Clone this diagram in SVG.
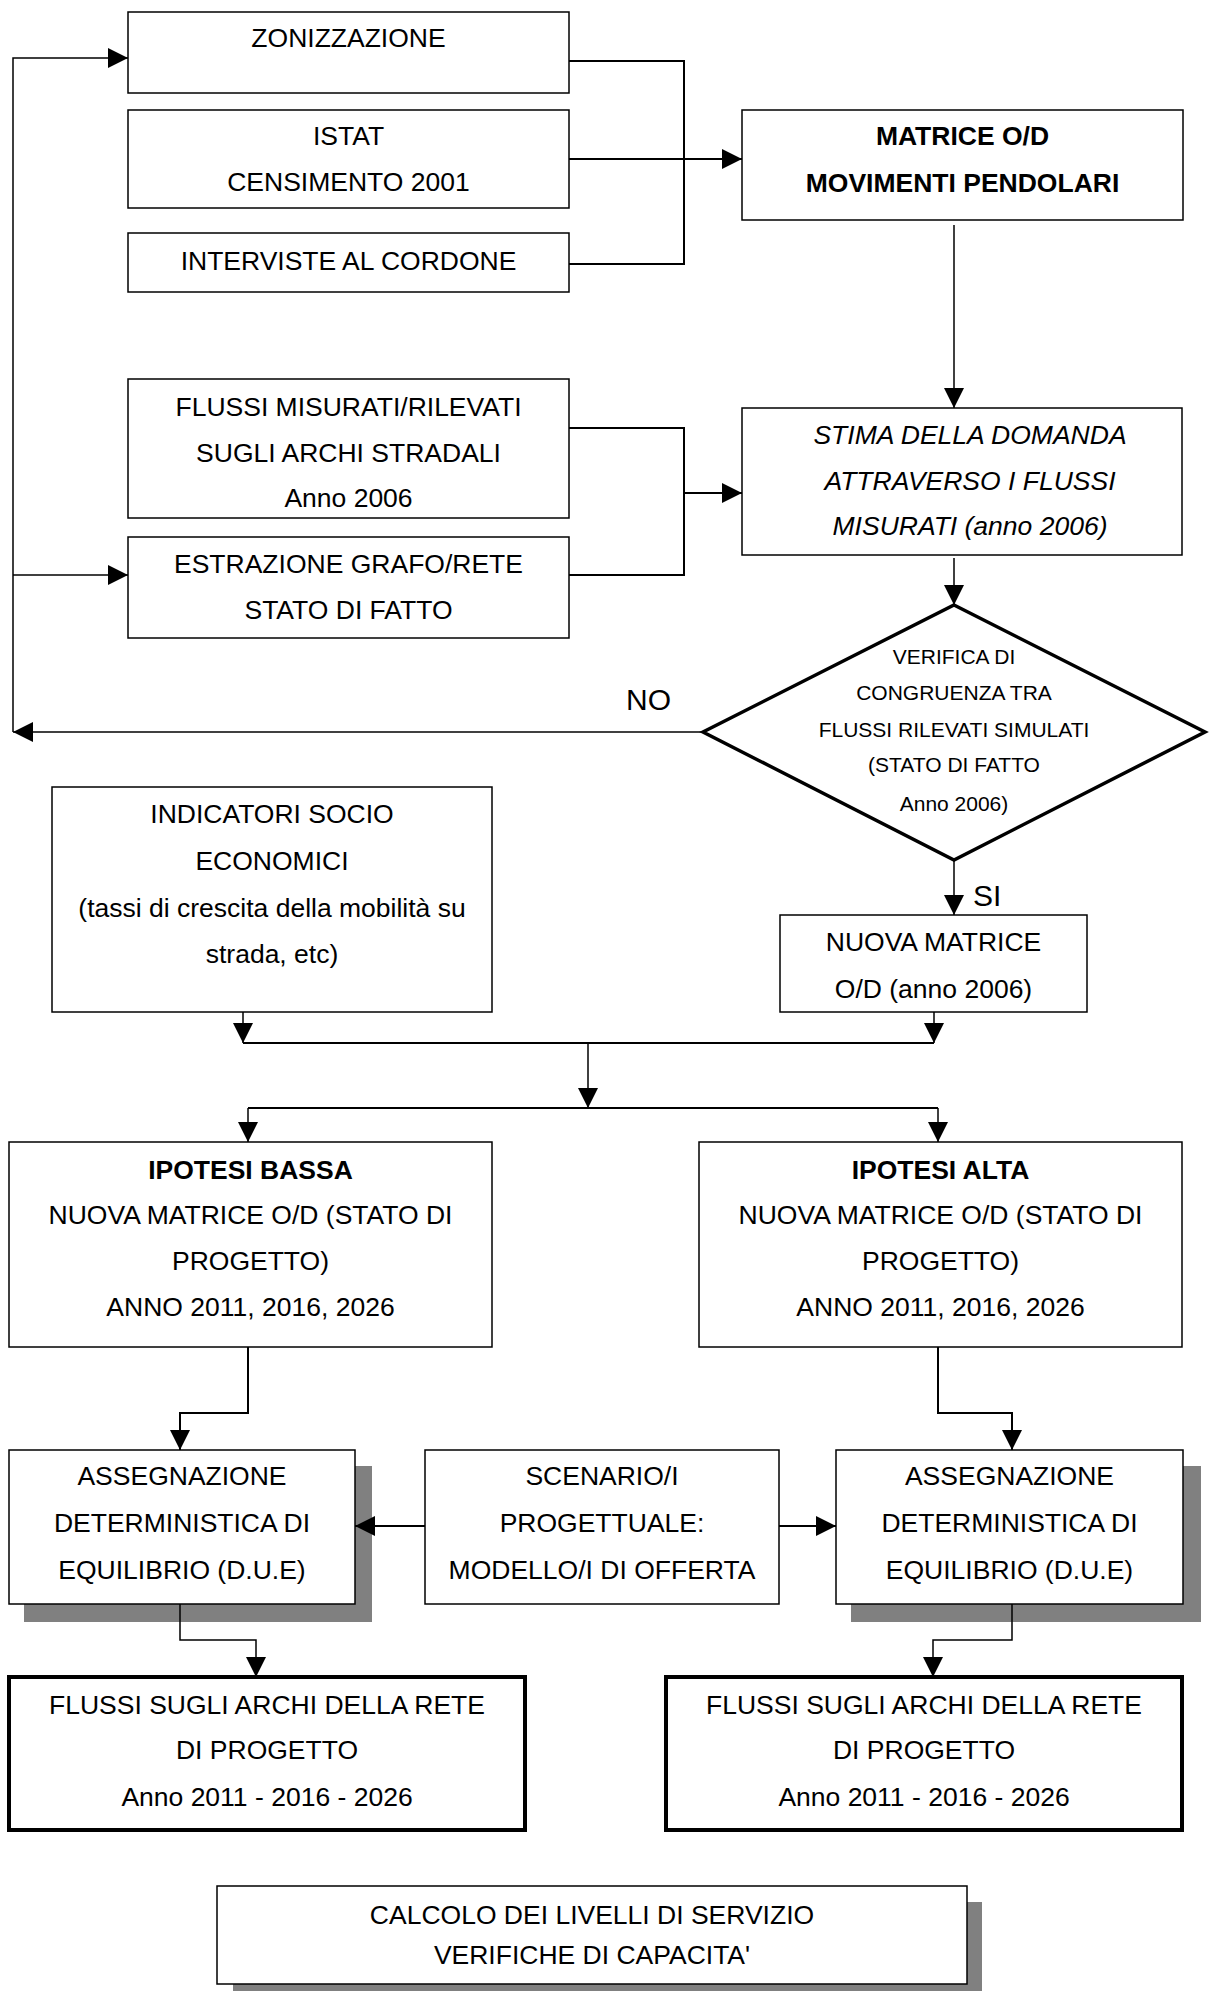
<svg xmlns="http://www.w3.org/2000/svg" width="1210" height="1991" viewBox="0 0 1210 1991">
<style>
  .box { fill: #ffffff; stroke: #000000; stroke-width: 1.5; }
  .thick { fill: #ffffff; stroke: #000000; stroke-width: 4; }
  .dia { fill: #ffffff; stroke: #000000; stroke-width: 3.5; stroke-linejoin: miter; }
  .shadow { fill: #808080; stroke: none; }
  .t { font-family: "Liberation Sans", Arial, sans-serif; font-size: 26.5px; fill: #000000; text-anchor: middle; }
  .b { font-weight: bold; }
  .i { font-style: italic; }
  .s { font-size: 21px; }
  .lbl { font-family: "Liberation Sans", Arial, sans-serif; font-size: 30px; fill: #000000; }
  .c { fill: none; stroke: #000000; stroke-width: 1.5; }
  .c2 { fill: none; stroke: #000000; stroke-width: 2; }
</style>
<defs>
  <marker id="ah" markerUnits="userSpaceOnUse" markerWidth="20" markerHeight="20" refX="20" refY="10" orient="auto" viewBox="0 0 20 20">
    <path d="M0,0 L20,10 L0,20 Z" fill="#000000"/>
  </marker>
</defs>
<rect width="1210" height="1991" fill="#ffffff"/>

<g id="zonizzazione">
  <rect class="box" x="128" y="12" width="441" height="81"/>
  <text class="t" x="348.5" y="47">ZONIZZAZIONE</text>
</g>
<g id="istat">
  <rect class="box" x="128" y="110" width="441" height="98"/>
  <text class="t" x="348.5" y="145">ISTAT</text>
  <text class="t" x="348.5" y="191">CENSIMENTO 2001</text>
</g>
<g id="interviste">
  <rect class="box" x="128" y="233" width="441" height="59"/>
  <text class="t" x="348.5" y="270">INTERVISTE AL CORDONE</text>
</g>
<g id="matrice">
  <rect class="box" x="742" y="110" width="441" height="110"/>
  <text class="t b" x="962.5" y="145">MATRICE O/D</text>
  <text class="t b" x="962.5" y="192">MOVIMENTI PENDOLARI</text>
</g>
<g id="flussi-misurati">
  <rect class="box" x="128" y="379" width="441" height="139"/>
  <text class="t" x="348.5" y="415.5">FLUSSI MISURATI/RILEVATI</text>
  <text class="t" x="348.5" y="461.5">SUGLI ARCHI STRADALI</text>
  <text class="t" x="348.5" y="507">Anno 2006</text>
</g>
<g id="estrazione">
  <rect class="box" x="128" y="537" width="441" height="101"/>
  <text class="t" x="348.5" y="572.5">ESTRAZIONE GRAFO/RETE</text>
  <text class="t" x="348.5" y="618.5">STATO DI FATTO</text>
</g>
<g id="stima">
  <rect class="box" x="742" y="408" width="440" height="147"/>
  <text class="t i" x="970" y="443.5">STIMA DELLA DOMANDA</text>
  <text class="t i" x="970" y="490">ATTRAVERSO I FLUSSI</text>
  <text class="t i" x="970" y="535">MISURATI (anno 2006)</text>
</g>
<g id="verifica">
  <polygon class="dia" points="954,605 1205,732 954,860 703,732"/>
  <text class="t s" x="954" y="664">VERIFICA DI</text>
  <text class="t s" x="954" y="700">CONGRUENZA TRA</text>
  <text class="t s" x="954" y="737">FLUSSI RILEVATI SIMULATI</text>
  <text class="t s" x="954" y="772">(STATO DI FATTO</text>
  <text class="t s" x="954" y="811">Anno 2006)</text>
</g>
<g id="labels">
  <text class="lbl" x="626" y="710">NO</text>
  <text class="lbl" x="973" y="906">SI</text>
</g>
<g id="indicatori">
  <rect class="box" x="52" y="787" width="440" height="225"/>
  <text class="t" x="272" y="823">INDICATORI SOCIO</text>
  <text class="t" x="272" y="869.5">ECONOMICI</text>
  <text class="t" x="272" y="916.5">(tassi di crescita della mobilità su</text>
  <text class="t" x="272" y="962.5">strada, etc)</text>
</g>
<g id="nuova-matrice">
  <rect class="box" x="780" y="915" width="307" height="97"/>
  <text class="t" x="933.5" y="950.5">NUOVA MATRICE</text>
  <text class="t" x="933.5" y="997.5">O/D (anno 2006)</text>
</g>
<g id="ipotesi-bassa">
  <rect class="box" x="9" y="1142" width="483" height="205"/>
  <text class="t b" x="250.5" y="1178.5">IPOTESI BASSA</text>
  <text class="t" x="250.5" y="1223.5">NUOVA MATRICE O/D (STATO DI</text>
  <text class="t" x="250.5" y="1270">PROGETTO)</text>
  <text class="t" x="250.5" y="1315.5">ANNO 2011, 2016, 2026</text>
</g>
<g id="ipotesi-alta">
  <rect class="box" x="699" y="1142" width="483" height="205"/>
  <text class="t b" x="940.5" y="1178.5">IPOTESI ALTA</text>
  <text class="t" x="940.5" y="1223.5">NUOVA MATRICE O/D (STATO DI</text>
  <text class="t" x="940.5" y="1270">PROGETTO)</text>
  <text class="t" x="940.5" y="1315.5">ANNO 2011, 2016, 2026</text>
</g>
<g id="assegnazione-sx">
  <rect class="shadow" x="24" y="1466" width="348" height="156"/>
  <rect class="box" x="9" y="1450" width="346" height="154"/>
  <text class="t" x="182" y="1485">ASSEGNAZIONE</text>
  <text class="t" x="182" y="1531.5">DETERMINISTICA DI</text>
  <text class="t" x="182" y="1578.5">EQUILIBRIO (D.U.E)</text>
</g>
<g id="scenario">
  <rect class="box" x="425" y="1450" width="354" height="154"/>
  <text class="t" x="602" y="1485">SCENARIO/I</text>
  <text class="t" x="602" y="1531.5">PROGETTUALE:</text>
  <text class="t" x="602" y="1578.5">MODELLO/I DI OFFERTA</text>
</g>
<g id="assegnazione-dx">
  <rect class="shadow" x="851" y="1466" width="350" height="156"/>
  <rect class="box" x="836" y="1450" width="347" height="154"/>
  <text class="t" x="1009.5" y="1485">ASSEGNAZIONE</text>
  <text class="t" x="1009.5" y="1531.5">DETERMINISTICA DI</text>
  <text class="t" x="1009.5" y="1578.5">EQUILIBRIO (D.U.E)</text>
</g>
<g id="flussi-sx">
  <rect class="thick" x="9" y="1677" width="516" height="153"/>
  <text class="t" x="267" y="1713.5">FLUSSI SUGLI ARCHI DELLA RETE</text>
  <text class="t" x="267" y="1758.5">DI PROGETTO</text>
  <text class="t" x="267" y="1805.5">Anno 2011 - 2016 - 2026</text>
</g>
<g id="flussi-dx">
  <rect class="thick" x="666" y="1677" width="516" height="153"/>
  <text class="t" x="924" y="1713.5">FLUSSI SUGLI ARCHI DELLA RETE</text>
  <text class="t" x="924" y="1758.5">DI PROGETTO</text>
  <text class="t" x="924" y="1805.5">Anno 2011 - 2016 - 2026</text>
</g>
<g id="calcolo">
  <rect class="shadow" x="233" y="1902" width="749" height="100"/>
  <rect class="box" x="217" y="1886" width="750" height="98"/>
  <text class="t" x="592" y="1923.5">CALCOLO DEI LIVELLI DI SERVIZIO</text>
  <text class="t" x="592" y="1963.5">VERIFICHE DI CAPACITA'</text>
</g>

<g id="connectors">
  <path class="c" d="M703,732 H13" marker-end="url(#ah)"/>
  <path class="c" d="M13,732 V58 H128" marker-end="url(#ah)"/>
  <path class="c" d="M13,575 H128" marker-end="url(#ah)"/>
  <path class="c2" d="M569,61 H684 V264 H569"/>
  <path class="c2" d="M569,159 H742" marker-end="url(#ah)"/>
  <path class="c" d="M954,225 V408" marker-end="url(#ah)"/>
  <path class="c2" d="M569,428 H684 V575 H569"/>
  <path class="c2" d="M684,493 H742" marker-end="url(#ah)"/>
  <path class="c" d="M954,558 V605" marker-end="url(#ah)"/>
  <path class="c" d="M954,860 V915" marker-end="url(#ah)"/>
  <path class="c" d="M243,1012 V1043" marker-end="url(#ah)"/>
  <path class="c" d="M934,1012 V1043" marker-end="url(#ah)"/>
  <path class="c2" d="M243,1043 H934"/>
  <path class="c" d="M588,1043 V1108" marker-end="url(#ah)"/>
  <path class="c2" d="M248,1108 H938"/>
  <path class="c" d="M248,1108 V1142" marker-end="url(#ah)"/>
  <path class="c" d="M938,1108 V1142" marker-end="url(#ah)"/>
  <path class="c2" d="M248,1347 V1413 H180 V1450" marker-end="url(#ah)"/>
  <path class="c2" d="M938,1347 V1413 H1012 V1450" marker-end="url(#ah)"/>
  <path class="c2" d="M425,1526 H355" marker-end="url(#ah)"/>
  <path class="c2" d="M779,1526 H836" marker-end="url(#ah)"/>
  <path class="c" d="M180,1604 V1640 H256 V1677" marker-end="url(#ah)"/>
  <path class="c" d="M1012,1604 V1640 H933 V1677" marker-end="url(#ah)"/>
</g>
</svg>
